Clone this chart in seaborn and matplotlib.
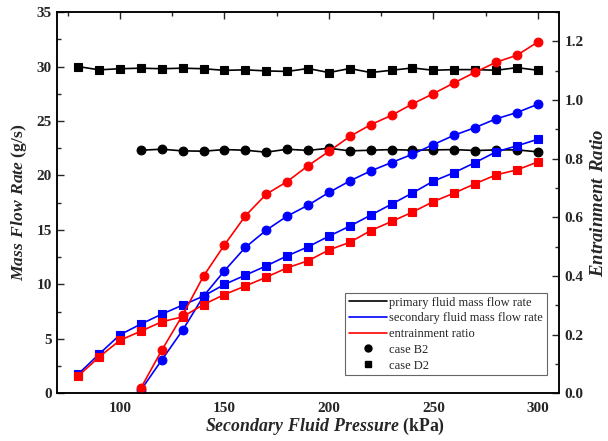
import matplotlib
matplotlib.use("Agg")
import matplotlib.pyplot as plt
from matplotlib.lines import Line2D
from matplotlib.ticker import MultipleLocator
import seaborn as sns

sns.set_theme(style="white")
plt.rcParams["font.family"] = ["Liberation Serif", "DejaVu Serif"]
plt.rcParams["mathtext.fontset"] = "custom"
plt.rcParams["mathtext.bfit"] = "Liberation Serif:italic:bold"
plt.rcParams["mathtext.bf"] = "Liberation Serif:bold"
plt.rcParams["mathtext.rm"] = "Liberation Serif"

# Secondary fluid pressure (kPa)
p_d2 = [80, 90, 100, 110, 120, 130, 140, 150, 160, 170, 180, 190,
        200, 210, 220, 230, 240, 250, 260, 270, 280, 290, 300]
p_b2 = [110, 120, 130, 140, 150, 160, 170, 180, 190, 200, 210,
        220, 230, 240, 250, 260, 270, 280, 290, 300]

# Primary fluid mass flow rate (g/s)
primary_d2 = [30.0, 29.7, 29.8, 29.85, 29.8, 29.85, 29.8, 29.65, 29.7, 29.6, 29.55, 29.82,
              29.45, 29.82, 29.45, 29.66, 29.87, 29.66, 29.72, 29.72, 29.66, 29.9, 29.66]
primary_b2 = [22.32, 22.41, 22.26, 22.23, 22.38, 22.32, 22.14, 22.41, 22.3, 22.5,
              22.26, 22.32, 22.38, 22.32, 22.35, 22.38, 22.29, 22.35, 22.35, 22.17]

# Secondary fluid mass flow rate (g/s)
secondary_d2 = [1.77, 3.6, 5.38, 6.36, 7.27, 8.1, 8.93, 10.0, 10.85, 11.7, 12.62, 13.45,
                14.43, 15.35, 16.36, 17.37, 18.4, 19.48, 20.27, 21.19, 22.17, 22.72, 23.33]
secondary_b2 = [0.3, 3.06, 5.8, 8.93, 11.25, 13.4, 14.98, 16.27, 17.27, 18.44,
                19.5, 20.42, 21.19, 21.95, 22.84, 23.7, 24.4, 25.2, 25.78, 26.54]

# Entrainment ratio (-)
ratio_d2 = [0.059, 0.124, 0.181, 0.212, 0.244, 0.261, 0.303, 0.337, 0.366, 0.396, 0.428, 0.452,
            0.489, 0.515, 0.555, 0.586, 0.618, 0.654, 0.683, 0.715, 0.745, 0.762, 0.789]
ratio_b2 = [0.018, 0.147, 0.267, 0.40, 0.506, 0.605, 0.679, 0.722, 0.776, 0.825,
            0.876, 0.916, 0.948, 0.987, 1.022, 1.059, 1.095, 1.129, 1.153, 1.198]

x_ticks = [100, 150, 200, 250, 300]
y_ticks = [0, 5, 10, 15, 20, 25, 30, 35]
r_ticks = [0.0, 0.2, 0.4, 0.6, 0.8, 1.0, 1.2]

fig = plt.figure(figsize=(6.08, 4.41), dpi=100)
ax = fig.add_axes([0.0942, 0.108, 0.8248, 0.8646])
ax2 = ax.twinx()

lw = 1.2
ms_c = 6.3
ms_s = 5.8

def draw(axis, x, y, color, marker, ms):
    sns.lineplot(x=x, y=y, ax=axis, color=color, marker=marker, markersize=ms,
                 markeredgecolor=color, markeredgewidth=0.8, linewidth=lw,
                 legend=False, estimator=None, sort=False)

draw(ax, p_d2, primary_d2, "black", "s", ms_s)
draw(ax, p_b2, primary_b2, "black", "o", ms_c)
draw(ax, p_d2, secondary_d2, "#0000ff", "s", ms_s)
draw(ax, p_b2, secondary_b2, "#0000ff", "o", ms_c)
draw(ax2, p_d2, ratio_d2, "#ff0000", "s", ms_s)
draw(ax2, p_b2, ratio_b2, "#ff0000", "o", ms_c)

ax.set_xlim(70, 310)
ax.set_ylim(0, 35)
ax2.set_ylim(0, 1.3)
ax.set_xticks(x_ticks)
ax.set_yticks(y_ticks)
ax2.set_yticks(r_ticks)
ax.xaxis.set_minor_locator(MultipleLocator(25))
ax.yaxis.set_minor_locator(MultipleLocator(2.5))
ax2.yaxis.set_minor_locator(MultipleLocator(0.1))
ax2.set_yticklabels([f"{t:.1f}" for t in r_ticks])

for a in (ax, ax2):
    for sp in a.spines.values():
        sp.set_linewidth(1.1)
        sp.set_color("black")
ax.tick_params(axis="both", which="major", direction="in", length=5, width=1.0,
               labelsize=11, top=True, right=False)
ax.tick_params(axis="x", which="major", pad=6)
ax.tick_params(axis="y", which="major", pad=4)
ax.tick_params(axis="both", which="minor", direction="in", length=3, width=1.0,
               top=True, right=False)
ax2.tick_params(axis="y", which="major", direction="in", length=5, width=1.0,
                labelsize=11, pad=4)
ax2.tick_params(axis="y", which="minor", direction="in", length=3, width=1.0)
for lab in ax.get_xticklabels() + ax.get_yticklabels() + ax2.get_yticklabels():
    lab.set_fontweight("bold")

ax.set_xlabel(r"$\mathbfit{Secondary\ Fluid\ Pressure}$ (kPa)", fontsize=12.8,
              fontweight="bold")
ax.xaxis.set_label_coords(0.5336, -0.060, transform=ax.transAxes)
ax.set_ylabel(r"$\mathbfit{Mass\ Flow\ Rate}$ (g/s)", fontsize=12.6,
              fontweight="bold", labelpad=5)
ax2.set_ylabel(r"$\mathbfit{Entrainment\ Ratio}$", fontsize=13.5,
               fontweight="bold", labelpad=5)

handles = [
    Line2D([], [], color="black", lw=1.2),
    Line2D([], [], color="#0000ff", lw=1.2),
    Line2D([], [], color="#ff0000", lw=1.2),
    Line2D([], [], color="black", lw=0, marker="o", markersize=5),
    Line2D([], [], color="black", lw=0, marker="s", markersize=4.5),
]
labels = ["primary fluid mass flow rate", "secondary fluid mass flow rate",
          "entrainment ratio", "case B2", "case D2"]
leg = ax2.legend(handles, labels, loc="upper left", bbox_to_anchor=(0.5735, 0.2638),
                 borderaxespad=0, fontsize=9, frameon=True, fancybox=False,
                 edgecolor="#666666", framealpha=1, handlelength=3.1,
                 handletextpad=0.15, labelspacing=0.3, borderpad=0.3)
leg.get_frame().set_linewidth(0.8)

fig.savefig("out.png", dpi=100)
